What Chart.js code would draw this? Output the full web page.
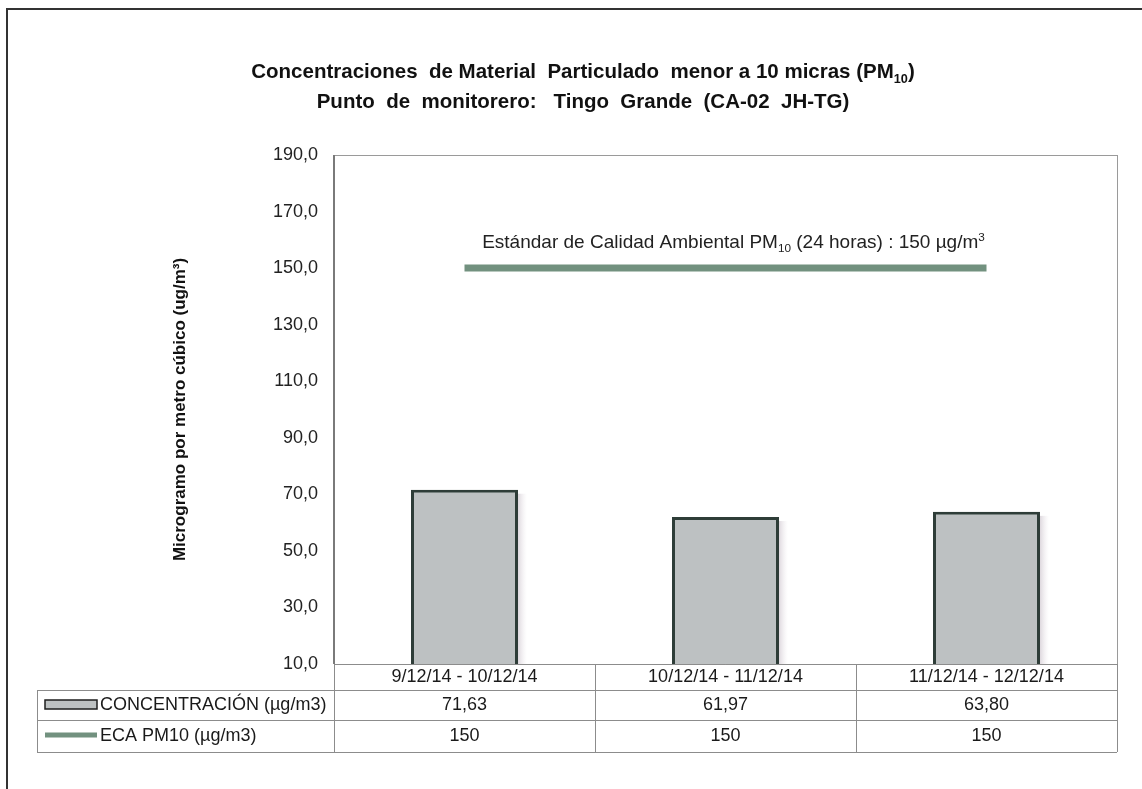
<!DOCTYPE html>
<html>
<head>
<meta charset="utf-8">
<script src="https://cdn.jsdelivr.net/npm/chart.js@4.4.1/dist/chart.umd.min.js"></script>
<style>
  body { margin: 0; background: #fff; }
  #wrap { width: 1142px; height: 789px; position: relative; }
</style>
</head>
<body>
<div id="wrap"><canvas id="pmChart" width="1142" height="789"></canvas></div>
<script>
// data
const categories = ['9/12/14 - 10/12/14', '10/12/14 - 11/12/14', '11/12/14 - 12/12/14'];
const concentration = [71.63, 61.97, 63.80];
const ecaPM10 = [150, 150, 150];
const seriesNames = ['CONCENTRACIÓN (µg/m3)', 'ECA PM10 (µg/m3)'];
const yMin = 10, yMax = 190, yStep = 20;

const FONT = "'Liberation Sans Narrow', 'Liberation Sans', Arial, sans-serif";
const barFill = '#bdc1c2';
const barEdge = '#2e3d38';
const lineColor = '#72917f';

function comma(v, d) { return v.toFixed(d).replace('.', ','); }

// draws a line of text made of parts, some of them sub/superscript
function drawRich(ctx, parts, cx, y, size, weight) {
  let total = 0;
  parts.forEach(p => {
    const s = p.sub || p.sup ? size * 0.62 : size;
    ctx.font = weight + ' ' + s + 'px ' + FONT;
    p.w = ctx.measureText(p.t).width;
    total += p.w;
  });
  let x = cx - total / 2;
  ctx.textAlign = 'left';
  ctx.textBaseline = 'alphabetic';
  parts.forEach(p => {
    const s = p.sub || p.sup ? size * 0.62 : size;
    ctx.font = weight + ' ' + s + 'px ' + FONT;
    let dy = 0;
    if (p.sub) dy = size * 0.22;
    if (p.sup) dy = -size * 0.4;
    ctx.fillText(p.t, x, y + dy);
    x += p.w;
  });
}

const decorPlugin = {
  id: 'decor',
  beforeDraw(chart) {
    const ctx = chart.ctx;
    ctx.save();
    ctx.fillStyle = '#fff';
    ctx.fillRect(0, 0, chart.width, chart.height);
    // outer frame
    ctx.strokeStyle = '#333';
    ctx.lineWidth = 2;
    ctx.beginPath();
    ctx.moveTo(7, chart.height);
    ctx.lineTo(7, 9);
    ctx.lineTo(chart.width, 9);
    ctx.stroke();
    ctx.restore();
  },
  beforeDatasetsDraw(chart) {
    // soft shadow at the right of each bar
    const ctx = chart.ctx;
    const a = chart.chartArea;
    const meta = chart.getDatasetMeta(1);
    ctx.save();
    ctx.beginPath();
    ctx.rect(a.left, a.top, a.right - a.left, a.bottom - a.top);
    ctx.clip();
    meta.data.forEach(b => {
      const g = ctx.createLinearGradient(b.x + b.width / 2, 0, b.x + b.width / 2 + 9, 0);
      g.addColorStop(0, 'rgba(200,190,200,0.6)');
      g.addColorStop(1, 'rgba(230,225,230,0)');
      ctx.fillStyle = g;
      ctx.fillRect(b.x + b.width / 2, b.y + 4, 9, a.bottom - b.y - 4);
    });
    ctx.restore();
  },
  afterDraw(chart) {
    const ctx = chart.ctx;
    const a = chart.chartArea;
    const xs = chart.scales.x;
    const ys = chart.scales.y;
    ctx.save();

    // title
    ctx.fillStyle = '#111';
    drawRich(ctx, [{t: 'Concentraciones  de Material  Particulado  menor a 10 micras (PM'}, {t: '10', sub: true}, {t: ')'}], 583, 78, 20.5, 'bold');
    drawRich(ctx, [{t: 'Punto  de  monitorero:   Tingo  Grande  (CA-02  JH-TG)'}], 583, 108, 20.5, 'bold');

    // standard label above the line
    const x0 = xs.getPixelForValue(0), x2 = xs.getPixelForValue(2);
    ctx.fillStyle = '#222';
    drawRich(ctx, [{t: 'Estándar de Calidad Ambiental PM'}, {t: '10', sub: true}, {t: ' (24 horas) : 150 µg/m'}, {t: '3', sup: true}],
      (x0 + x2) / 2 + 8, ys.getPixelForValue(150) - 20, 19, 'normal');

    // plot box
    ctx.strokeStyle = '#9a9a9a';
    ctx.lineWidth = 1;
    ctx.strokeRect(a.left + 0.5, a.top + 0.5, a.right - a.left, a.bottom - a.top);
    ctx.strokeStyle = '#7a7a7a';
    ctx.lineWidth = 2;
    ctx.beginPath();
    ctx.moveTo(a.left, a.top);
    ctx.lineTo(a.left, a.bottom);
    ctx.stroke();

    // data table
    const rowH = [26, 30, 32];
    const tLeft = 37;
    const r1 = a.bottom + rowH[0], r2 = r1 + rowH[1], r3 = r2 + rowH[2];
    ctx.strokeStyle = '#8c8c8c';
    ctx.lineWidth = 1;
    ctx.beginPath();
    ctx.moveTo(a.left, a.bottom + 0.5); ctx.lineTo(a.right, a.bottom + 0.5);
    [r1, r2, r3].forEach(y => { ctx.moveTo(tLeft, y + 0.5); ctx.lineTo(a.right, y + 0.5); });
    ctx.moveTo(tLeft + 0.5, r1); ctx.lineTo(tLeft + 0.5, r3);
    const colW = xs.getPixelForValue(1) - xs.getPixelForValue(0);
    for (let i = 0; i <= categories.length; i++) {
      const x = Math.round(x0 - colW / 2 + i * colW) + 0.5;
      ctx.moveTo(x, a.bottom); ctx.lineTo(x, r3);
    }
    ctx.stroke();

    // legend keys
    ctx.fillStyle = barFill;
    ctx.fillRect(45, r1 + 10, 52, 9);
    ctx.strokeStyle = '#1e1e1e';
    ctx.lineWidth = 1.5;
    ctx.strokeRect(45, r1 + 10, 52, 9);
    ctx.strokeStyle = lineColor;
    ctx.lineWidth = 5;
    ctx.beginPath();
    ctx.moveTo(45, r2 + 15); ctx.lineTo(97, r2 + 15);
    ctx.stroke();

    ctx.fillStyle = '#1a1a1a';
    ctx.font = '18px ' + FONT;
    ctx.textAlign = 'left';
    ctx.textBaseline = 'middle';
    ctx.fillText(seriesNames[0], 100, r1 + rowH[1] / 2);
    ctx.fillText(seriesNames[1], 100, r2 + rowH[2] / 2);

    ctx.textAlign = 'center';
    categories.forEach((c, i) => {
      const x = xs.getPixelForValue(i);
      ctx.fillText(comma(concentration[i], 2), x, r1 + rowH[1] / 2);
      ctx.fillText(String(ecaPM10[i]), x, r2 + rowH[2] / 2);
    });
    ctx.restore();
  }
};

new Chart(document.getElementById('pmChart'), {
  type: 'bar',
  data: {
    labels: categories,
    datasets: [{
      type: 'line',
      label: seriesNames[1],
      data: ecaPM10,
      borderColor: lineColor,
      borderWidth: 7,
      pointRadius: 0,
      fill: false,
      order: 0
    }, {
      label: seriesNames[0],
      data: concentration,
      backgroundColor: barFill,
      borderColor: barEdge,
      borderWidth: 3,
      categoryPercentage: 1,
      barPercentage: 0.41,
      order: 1
    }]
  },
  options: {
    responsive: false,
    animation: false,
    layout: { padding: { top: 155, right: 25, bottom: 37, left: 170 } },
    plugins: {
      legend: { display: false },
      title: { display: false },
      tooltip: { enabled: false }
    },
    scales: {
      x: {
        grid: { display: false, drawTicks: false },
        border: { display: false },
        ticks: { color: '#1a1a1a', font: { family: FONT, size: 18 }, padding: 2, maxRotation: 0 },
        afterFit(scale) { scale.height = 88; }
      },
      y: {
        min: yMin,
        max: yMax,
        grid: { display: false, drawTicks: false },
        border: { display: false },
        ticks: {
          stepSize: yStep,
          color: '#222',
          padding: 16,
          font: { family: FONT, size: 18 },
          callback: v => comma(v, 1)
        },
        title: {
          display: true,
          text: 'Microgramo por metro cúbico (ug/m³)',
          color: '#111',
          font: { family: FONT, size: 17, weight: 'bold' },
          padding: { top: 0, bottom: 0 }
        },
        afterFit(scale) { scale.width = 164; }
      }
    }
  },
  plugins: [decorPlugin]
});
</script>
</body>
</html>
